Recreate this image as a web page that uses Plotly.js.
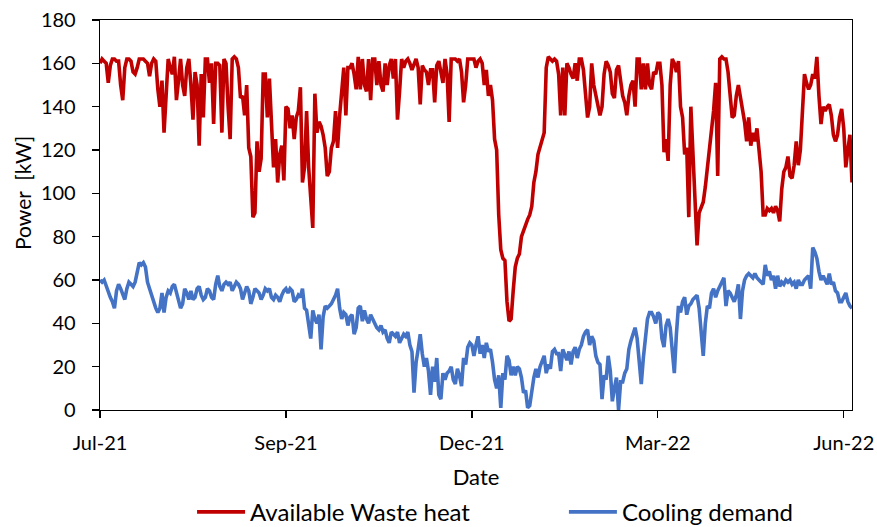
<!DOCTYPE html>
<html>
<head>
<meta charset="utf-8">
<script src="https://cdn.plot.ly/plotly-3.0.1.min.js"></script>
<style>html,body{margin:0;padding:0;background:#fff;}#chart{width:877px;height:527px;}</style>
</head>
<body>
<div id="chart"></div>
<script>
// Daily series, 1 Jul 2021 .. 30 Jun 2022 (365 days)
const startDate = "2021-07-01";

const wasteHeat = [
160,162,161,160,151,159,162,162,161,161,
150,143,158,162,162,161,156,155,158,162,
162,162,161,160,154,160,162,161,148,140,
152,128,145,162,158,155,163,143,152,162,
150,145,158,162,150,134,156,150,122,155,
135,162,162,151,160,132,160,160,159,128,
162,160,140,125,162,163,162,158,144,145,
136,150,121,117,89,91,124,110,116,155,
155,135,153,136,112,125,105,118,122,106,
140,139,130,136,125,135,138,149,105,112,
138,112,100,84,146,128,133,131,127,121,
108,110,121,124,138,121,136,150,158,136,
158,158,160,155,148,163,148,162,150,147,
162,143,162,162,150,161,150,147,160,150,
159,162,153,162,134,147,162,158,161,162,
160,157,160,162,158,141,159,157,156,150,
157,157,142,159,161,155,151,162,155,133,
162,162,162,161,162,156,142,150,162,162,
162,162,158,161,162,160,150,157,145,150,
143,125,120,90,74,70,69,50,41,42,
55,66,70,72,80,83,86,88,90,94,
105,110,118,121,125,128,158,163,162,161,
162,161,155,136,158,136,160,158,155,153,
160,152,162,162,157,144,135,140,160,150,
145,140,136,140,155,161,159,156,146,144,
157,159,151,145,142,136,145,150,152,140,
162,162,148,160,148,160,150,148,156,155,
160,160,150,119,125,115,150,162,160,156,
161,140,135,118,121,89,140,118,95,76,
91,94,96,103,112,118,127,138,151,108,
162,163,162,162,156,144,135,136,145,150,
145,140,133,124,135,122,128,124,130,120,
110,90,90,93,92,93,91,94,92,87,
102,110,112,117,108,107,113,124,113,120,
136,155,151,148,150,155,153,163,145,132,
140,138,140,141,136,127,124,127,135,139,
130,112,120,127,105
];

const coolingDemand = [
60,59,60,57,54,52,50,47,55,58,
56,53,51,56,59,58,57,59,63,68,
67,68,66,59,56,53,49,47,45,47,
54,45,52,55,54,57,58,54,50,47,
49,56,54,51,55,51,52,56,57,53,
51,52,56,55,52,51,58,62,57,55,
58,59,58,59,55,57,59,58,56,51,
54,57,55,49,52,56,55,54,51,53,
56,55,56,52,51,53,52,50,53,55,
56,54,56,55,50,51,53,52,56,47,
46,40,33,46,42,40,44,28,43,48,
47,48,49,51,53,56,47,42,45,44,
39,43,44,35,38,47,48,41,46,42,
40,44,42,40,38,37,39,36,37,33,
31,36,35,34,36,31,33,35,34,36,
30,27,8,22,28,35,26,20,24,18,
7,20,13,24,7,5,17,14,17,18,
20,14,12,19,16,11,24,21,29,31,
30,25,30,34,26,30,24,31,27,28,
22,14,10,16,1,17,14,25,23,16,
20,16,20,19,15,8,9,1,2,10,
15,19,15,20,23,25,17,21,19,27,
28,26,26,18,28,25,23,27,21,27,
29,24,28,30,34,36,37,30,34,32,
25,22,21,5,16,14,25,18,4,10,
15,0,13,13,17,19,28,32,35,38,
33,20,12,24,34,42,45,45,43,40,
45,44,33,29,39,42,38,26,17,35,
48,45,50,52,44,48,49,51,52,53,
47,36,25,40,48,47,54,56,52,55,
57,59,61,48,55,54,52,50,53,58,
42,55,60,62,63,62,61,63,61,60,
59,58,67,62,64,60,62,56,62,57,
59,58,60,59,60,58,59,56,60,58,
58,60,61,62,56,75,73,70,64,60,
62,60,58,63,58,59,55,54,50,50,
52,54,50,48,47
];

const seriesNames = ["Available Waste heat", "Cooling demand"];
const yTickVals = [0,20,40,60,80,100,120,140,160,180];
const xTitle = "Date";
const yTitle = "Power\u00a0\u00a0[kW]";

function dayList(start, n) {
  const out = [];
  const t0 = Date.UTC(+start.slice(0,4), +start.slice(5,7) - 1, +start.slice(8,10));
  for (let i = 0; i < n; i++) {
    const d = new Date(t0 + i * 86400000);
    out.push(d.toISOString().slice(0, 10));
  }
  return out;
}
const dates = dayList(startDate, wasteHeat.length);

const FONT = "Lato, 'Open Sans', sans-serif";

const traces = [
  { x: dates, y: wasteHeat, type: "scatter", mode: "lines", name: seriesNames[0],
    line: { color: "#C00000", width: 3.6 }, legend: "legend" },
  { x: dates, y: coolingDemand, type: "scatter", mode: "lines", name: seriesNames[1],
    line: { color: "#4472C4", width: 3.6 }, legend: "legend2" }
];

const legendCommon = {
  orientation: "h",
  xref: "container", yref: "container",
  y: 0.028, xanchor: "left", yanchor: "middle",
  font: { family: FONT, size: 24, color: "#000" },
  itemwidth: 48,
  bgcolor: "rgba(0,0,0,0)"
};

const layout = {
  width: 877, height: 527,
  margin: { l: 100, r: 25, t: 20, b: 117 },
  paper_bgcolor: "#ffffff", plot_bgcolor: "#ffffff",
  font: { family: FONT, color: "#000000", size: 20 },
  xaxis: {
    type: "date",
    range: ["2021-07-01", "2022-06-30"],
    tick0: "2021-07-01",
    dtick: 90 * 86400000,
    tickformat: "%b-%y",
    ticks: "outside", ticklen: 7, tickwidth: 1.3, tickcolor: "#000",
    showline: true, linecolor: "#000", linewidth: 1.3, mirror: true,
    showgrid: false, zeroline: false,
    tickfont: { family: FONT, size: 20, color: "#000" },
    ticklabelstandoff: 8,
    title: { text: xTitle, font: { family: FONT, size: 22, color: "#000" }, standoff: 31 }
  },
  yaxis: {
    range: [0, 180],
    tickvals: yTickVals,
    ticks: "outside", ticklen: 7, tickwidth: 1.3, tickcolor: "#000",
    showline: true, linecolor: "#000", linewidth: 1.3, mirror: true,
    showgrid: false, zeroline: false,
    tickfont: { family: FONT, size: 20, color: "#000" },
    ticklabelstandoff: 12
  },
  annotations: [
    { text: yTitle, xref: "paper", yref: "paper", x: -0.104, y: 0.556,
      xanchor: "center", yanchor: "middle", textangle: -90, showarrow: false,
      font: { family: FONT, size: 21, color: "#000" } }
  ],
  showlegend: true,
  legend: Object.assign({}, legendCommon, { x: 0.219 }),
  legend2: Object.assign({}, legendCommon, { x: 0.643 })
};

Plotly.newPlot("chart", traces, layout, { displayModeBar: false, staticPlot: true });
</script>
</body>
</html>
